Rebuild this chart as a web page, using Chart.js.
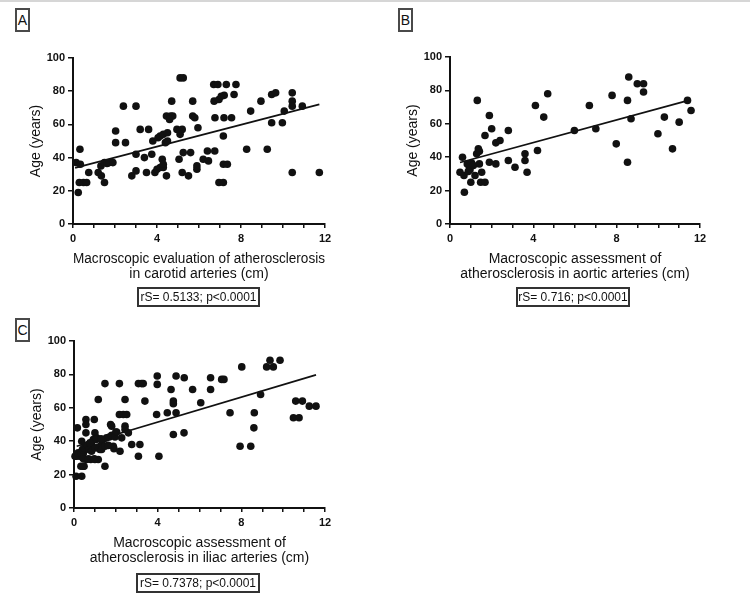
<!DOCTYPE html>
<html><head><meta charset="utf-8">
<script src="https://cdn.jsdelivr.net/npm/chart.js@4.4.1/dist/chart.umd.min.js"></script>
<style>
html,body{margin:0;padding:0;background:#fff;}
body{width:750px;height:594px;position:relative;overflow:hidden;font-family:"Liberation Sans",Arial,sans-serif;color:#111;}
.topline{position:absolute;left:0;top:0;width:750px;height:2px;background:#d6d6d6;}
canvas{position:absolute;}
.lab{position:absolute;box-sizing:border-box;border:2px solid #4a4a4a;font-size:14px;text-align:center;line-height:20px;width:15px;height:24px;}
.stat{position:absolute;box-sizing:border-box;border:2px solid #333;font-size:12px;text-align:center;line-height:16px;height:20px;white-space:nowrap;z-index:2;}
</style>
</head><body>
<div class="topline"></div>
<div class="lab" style="left:15px;top:8px;">A</div>
<div class="lab" style="left:398px;top:8px;">B</div>
<div class="lab" style="left:15px;top:318px;">C</div>
<canvas id="cA" width="350" height="290" style="left:0px;top:0px;"></canvas>
<canvas id="cB" width="350" height="290" style="left:377px;top:0px;"></canvas>
<canvas id="cC" width="350" height="290" style="left:1px;top:283px;"></canvas>
<div class="stat" id="sA" style="left:137px;top:287px;width:123px;"></div>
<div class="stat" id="sB" style="left:516px;top:287px;width:114px;"></div>
<div class="stat" id="sC" style="left:136px;top:573px;width:124px;"></div>
<script>
// ---- data ----
const carotidPts = [
[0.25,19],[0.33,45],[0.15,37],[0.35,36],[0.3,25],[0.5,25],[0.65,25],[0.75,31],
[1.2,31],[1.35,29],[1.5,25],[1.33,35],[1.5,37],[1.62,36.5],[1.72,37],[1.9,37],
[2.03,56],[2.03,49],[2.4,71],[2.5,49],[3.0,71],[3.2,57],[3.0,42],[2.8,29],[3.0,32],
[3.4,40],[3.6,57],[3.5,31],[3.75,42],[3.8,50],[3.9,31],[4.0,33],[4.15,34],[4.3,34],
[4.05,52],[4.15,53],[4.3,54],[4.25,39],[4.3,36],[4.45,29],[4.4,49],[4.5,50],[4.5,55],
[4.45,65],[4.65,65],[4.75,65],[4.7,74],[4.6,63],[4.95,57],[5.1,56],[5.2,57],[5.1,54],
[5.1,88],[5.25,88],[5.05,39],[5.25,43],[5.2,31],[5.5,29],[5.6,43],[5.7,74],[5.7,65],
[5.8,64],[5.9,33],[5.9,35],[5.95,58],
[6.2,39],[6.45,38],[6.4,44],[6.75,44],[6.7,84],[6.9,84],[7.3,84],[7.76,84],
[6.72,74],[6.95,75],[7.06,77],[7.2,77.5],[7.67,78],[6.76,64],[7.19,64],[7.55,64],
[7.16,53],[7.16,36],[7.35,36],[6.95,25],[7.16,25],[8.27,45],[8.46,68],[8.95,74],
[9.46,78],[9.65,79],[9.25,45],[9.46,61],[9.97,61],[10.06,68],[10.44,79],[10.44,74],
[10.44,71],[10.92,71],[10.44,31],[11.73,31]
];
const carotidFit = [[0.1,33.8],[11.73,72.1]];

const aorticPts = [
[0.6,40],[0.48,31],[0.67,29],[0.69,19],[0.83,36],[0.93,34.5],[1.04,36.5],[1.12,35],
[0.96,32.5],[0.88,31.5],[1.0,25],[1.2,29],[1.28,42],[1.36,45],[1.41,43.5],[1.31,74],
[1.41,36],[1.52,31],[1.47,25],[1.68,25],[1.68,53],[1.89,65],[2.0,57],[1.89,37],
[2.2,36],[2.2,48.6],[2.4,50],[2.8,56],[2.8,38],[3.12,34],[3.6,42],[3.6,38],[3.7,31],
[4.1,71],[4.2,44],[4.5,64],[4.69,78],[5.97,56],[6.69,71],[7.0,57],[7.78,77],[7.98,48],
[8.52,74],[8.58,88],[8.52,37],[8.69,63],[8.99,84],[9.29,84],[9.29,79],[9.98,54],
[10.29,64],[10.68,45],[11.0,61],[11.4,74],[11.57,68]
];
const aorticFit = [[0.48,36.8],[11.45,74]];

const iliacPts = [
[0.16,48],[0.1,31],[0.25,31],[0.05,31],[0.1,19],[0.37,19],[0.37,40],[0.33,25],[0.48,25],
[0.45,33],[0.57,36],[0.57,53],[0.57,50],[0.57,45],[0.6,29],[0.8,29],[1.0,29],[1.16,29],
[0.69,38],[0.77,37],[0.84,39],[0.97,53],[1.0,45],[1.08,42],[0.92,41],[1.05,41],[1.16,65],
[1.24,35],[1.32,38],[1.4,41],[1.48,74.5],[1.48,25],[1.56,42],[1.69,42.5],[1.8,43.5],
[1.75,50],[1.8,49],[1.88,37],[1.91,35.5],[2.0,45.5],[2.17,74.5],[2.2,34],[2.17,56],
[2.36,56],[2.52,56],[2.28,42],[2.44,65],[2.44,49],[2.44,47],[2.6,45],[2.76,38],[3.15,38],
[3.08,74.5],[3.23,74.5],[3.31,74.5],[3.39,64],[3.08,31],[3.98,79],[3.98,74],[3.95,56],
[4.06,31],[4.46,57],[4.64,71],[4.75,64],[4.75,62.5],[4.75,44],[4.88,79],[4.88,57],
[5.27,78],[5.26,45],[5.67,71],[6.06,63],[6.53,78],[6.53,71],[7.06,77],[7.17,77],[7.46,57],
[8.02,84.5],[7.94,37],[8.45,37],[8.6,48],[8.62,57],[8.92,68],[9.21,84.5],[9.53,84.5],
[9.37,88.5],[9.85,88.5],[10.6,64],[10.92,64],[10.49,54],[10.76,54],[11.25,61],[11.57,61],
[0.2,33],[0.33,33],[0.4,35],[0.49,36],[0.65,37.5],[0.72,35],[0.84,34],[1.0,36],[1.16,36.5],
[1.32,35],[1.48,37],[1.64,37.5],[0.45,29.5],[0.69,29.5],[0.97,29.5],[0.76,39],[1.29,41.5],
[1.96,42.5],[2.04,45.5],[0.45,25]
];
const iliacFit = [[0.13,37],[11.57,79.7]];

const xMajorTicks = [0,4,8,12];
const xMinorTicks = [0,1,2,3,4,5,6,7,8,9,10,11,12];
const yTickValues = [0,20,40,60,80,100];
const yTitle = 'Age (years)';
const xTitleA = ['Macroscopic evaluation of atherosclerosis','in carotid arteries (cm)'];
const xTitleB = ['Macroscopic assessment of','atherosclerosis in aortic arteries (cm)'];
const xTitleC = ['Macroscopic assessment of','atherosclerosis in iliac arteries (cm)'];
const statA = 'rS= 0.5133; p<0.0001';
const statB = 'rS= 0.716; p<0.0001';
const statC = 'rS= 0.7378; p<0.0001';

// ---- drawing ----
const FAM = '"Liberation Sans", Arial, sans-serif';
const INK = '#111';
function toXY(arr){ return arr.map(p => ({x:p[0], y:p[1]})); }

function makeChart(id, pts, fit, xTitle, pad){
  new Chart(document.getElementById(id), {
    type:'scatter',
    data:{datasets:[
      {data:toXY(pts), backgroundColor:INK, borderColor:INK, pointRadius:3.8, pointBorderWidth:0, clip:false},
      {type:'line', data:toXY(fit), borderColor:INK, borderWidth:1.7, pointRadius:0, showLine:true, fill:false, clip:false}
    ]},
    options:{
      responsive:false, animation:false, devicePixelRatio:1,
      layout:{padding:pad, autoPadding:false},
      plugins:{legend:{display:false}, tooltip:{enabled:false}},
      scales:{
        x:{type:'linear', min:0, max:12,
          afterFit(s){ s.height = 58; },
          afterBuildTicks(s){ s.ticks = xMinorTicks.map(v => ({value:v})); },
          ticks:{autoSkip:false, maxRotation:0, padding:4, color:INK,
            font:{family:FAM, size:11, weight:'bold'},
            callback:v => xMajorTicks.includes(v) ? String(v) : ''},
          grid:{drawOnChartArea:false, drawTicks:true, tickLength:4, color:INK, lineWidth:1.5},
          border:{display:true, color:INK, width:2},
          title:{display:true, text:xTitle, color:INK, font:{family:FAM, size:14, lineHeight:1.08}, padding:{top:0,bottom:0}}
        },
        y:{type:'linear', min:0, max:100,
          afterFit(s){ s.width = 73; },
          afterBuildTicks(s){ s.ticks = yTickValues.map(v => ({value:v})); },
          ticks:{padding:3, color:INK, font:{family:FAM, size:11, weight:'bold'}},
          grid:{drawOnChartArea:false, drawTicks:true, tickLength:5, color:INK, lineWidth:1.5},
          border:{display:true, color:INK, width:2},
          title:{display:true, text:yTitle, color:INK, font:{family:FAM, size:14}, padding:{top:27.6,bottom:0}}
        }
      }
    }
  });
}

makeChart('cA', carotidPts, carotidFit, xTitleA, {left:0, right:25, top:58, bottom:8});
makeChart('cB', aorticPts, aorticFit, xTitleB, {left:0, right:27, top:57, bottom:8});
makeChart('cC', iliacPts, iliacFit, xTitleC, {left:0, right:26, top:58, bottom:7});

document.getElementById('sA').textContent = statA;
document.getElementById('sB').textContent = statB;
document.getElementById('sC').textContent = statC;
</script>
</body></html>
